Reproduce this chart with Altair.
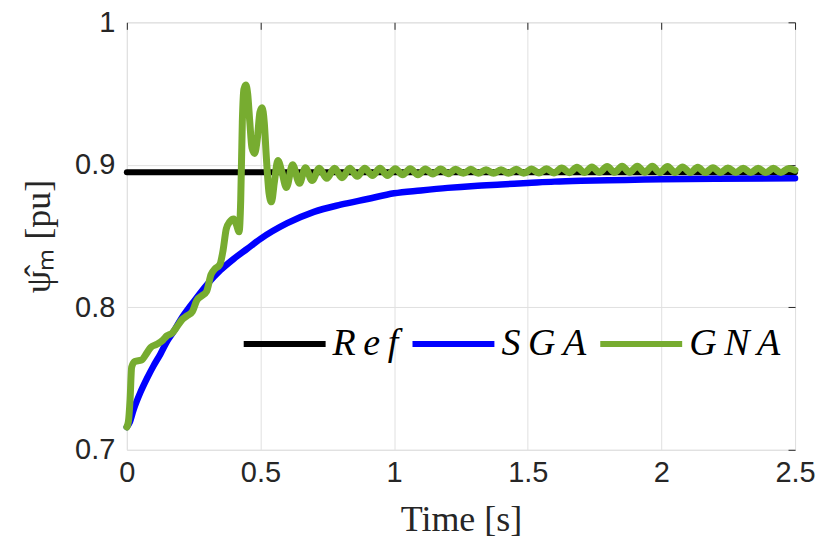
import altair as alt
import pandas as pd

# ---- data ----
ref_t = [0.0, 2.5]
ref_v = [0.8948, 0.8948]

sga_t = [0.0, 0.01, 0.025, 0.05, 0.075, 0.1, 0.125, 0.15, 0.175, 0.2, 0.25, 0.3,
         0.35, 0.4, 0.45, 0.5, 0.6, 0.7, 0.8, 0.9, 1.0, 1.1, 1.2, 1.3, 1.4, 1.5,
         1.6, 1.7, 1.8, 1.9, 2.0, 2.2, 2.5]
sga_v = [0.716, 0.719, 0.728, 0.740, 0.750, 0.759, 0.767, 0.776, 0.783, 0.791, 0.804, 0.816,
         0.826, 0.834, 0.841, 0.848, 0.859, 0.867, 0.872, 0.876, 0.880, 0.882, 0.8838, 0.8852, 0.8862, 0.8872,
         0.8882, 0.8888, 0.8892, 0.8895, 0.8898, 0.8902, 0.8905]

gna_t = [0.000, 0.006, 0.012, 0.018, 0.030, 0.055, 0.075, 0.090, 0.112, 0.135, 0.150, 0.170,
         0.190, 0.205, 0.225, 0.245, 0.262, 0.280, 0.298, 0.315, 0.330, 0.348, 0.360, 0.372,
         0.385, 0.400, 0.410, 0.420, 0.426, 0.432, 0.438, 0.445, 0.452, 0.460, 0.468, 0.478,
         0.488, 0.498, 0.506, 0.514, 0.522, 0.532, 0.541, 0.552, 0.565, 0.580, 0.597, 0.620,
         0.646, 0.668, 0.693,
         0.720, 0.748, 0.777, 0.805, 0.834, 0.862, 0.890, 0.919, 0.947, 0.975,
         1.004, 1.032, 1.060, 1.089, 1.117, 1.145, 1.174, 1.202, 1.230, 1.259,
         1.287, 1.315, 1.344, 1.372, 1.400, 1.428, 1.457, 1.485, 1.514, 1.542,
         1.570, 1.598, 1.627, 1.655, 1.684, 1.712, 1.740, 1.768, 1.797, 1.825,
         1.853, 1.881, 1.910, 1.938, 1.966, 1.994, 2.023, 2.051, 2.079, 2.108,
         2.136, 2.164, 2.193, 2.221, 2.249, 2.278, 2.306, 2.334, 2.362, 2.391,
         2.419, 2.447, 2.476, 2.500]
gna_v = [0.716, 0.720, 0.735, 0.758, 0.762, 0.763, 0.768, 0.772, 0.774, 0.777, 0.780, 0.782,
         0.787, 0.791, 0.794, 0.797, 0.805, 0.808, 0.811, 0.823, 0.827, 0.830, 0.840, 0.855,
         0.860, 0.862, 0.858, 0.853, 0.875, 0.930, 0.953, 0.956, 0.950, 0.930, 0.912, 0.908,
         0.918, 0.937, 0.940, 0.930, 0.905, 0.880, 0.874, 0.888, 0.903, 0.895, 0.884, 0.900,
         0.887, 0.898, 0.889,
         0.8975, 0.8905, 0.8975, 0.8910, 0.8975, 0.8920, 0.8975, 0.8925, 0.8975, 0.8925,
         0.8973, 0.8930, 0.8972, 0.8930, 0.8970, 0.8935, 0.8970, 0.8937, 0.8968, 0.8940,
         0.8968, 0.8940, 0.8966, 0.8940, 0.8966, 0.8940, 0.8968, 0.8940, 0.8970, 0.8942,
         0.8972, 0.8943, 0.8978, 0.8945, 0.8982, 0.8946, 0.8985, 0.8947, 0.8988, 0.8947,
         0.8990, 0.8947, 0.8990, 0.8947, 0.8990, 0.8946, 0.8988, 0.8946, 0.8985, 0.8946,
         0.8982, 0.8946, 0.8980, 0.8946, 0.8978, 0.8946, 0.8976, 0.8946, 0.8975, 0.8946,
         0.8975, 0.8946, 0.8974, 0.8962]

series_names = ["Ref", "SGA", "GNA"]
series_colors = ["#000000", "#0000ff", "#77ac30"]
x_ticks = [0, 0.5, 1, 1.5, 2, 2.5]
y_ticks = [0.7, 0.8, 0.9, 1.0]

rows = []
for name, ts, vs in [("Ref", ref_t, ref_v), ("SGA", sga_t, sga_v), ("GNA", gna_t, gna_v)]:
    for t, v in zip(ts, vs):
        rows.append({"t": t, "v": v, "series": name})
df = pd.DataFrame(rows)

W, H = 669, 428

color = alt.Color(
    "series:N",
    scale=alt.Scale(domain=series_names, range=series_colors),
    legend=alt.Legend(
        title=None,
        orient="none",
        legendX=114,
        legendY=278,
        direction="horizontal",
        symbolType="stroke",
        symbolSize=6724,
        symbolStrokeWidth=6,
        labelFont="Liberation Serif",
        labelFontStyle="italic",
        labelFontSize=38,
        labelColor="#000000",
        labelOffset=4,
        columnPadding=2,
        padding=0,
        labelLimit=400,
        labelExpr="datum.label == 'Ref' ? 'R\u2009e\u2009f' : (datum.label == 'SGA' ? 'S\u2009G\u2009A' : 'G\u2009N\u2009A')",
    ),
)

x_main = alt.X("t:Q", scale=alt.Scale(domain=[0, 2.5], nice=False),
               axis=alt.Axis(values=x_ticks, format="~g", title="Time [s]",
                             labelFont="Liberation Sans", labelFontSize=29, labelColor="#262626",
                             labelPadding=9, tickSize=0, domain=False, grid=True,
                             labelFlush=False, labelOverlap=False,
                             gridColor="#e0e0e0", gridWidth=1,
                             titleFont="Liberation Serif", titleFontSize=36,
                             titleFontWeight="normal", titleColor="#262626",
                             titleY=81, titleBaseline="alphabetic"))
y_main = alt.Y("v:Q", scale=alt.Scale(domain=[0.7, 1.0], nice=False, zero=False),
               axis=alt.Axis(values=y_ticks, format="~g", title="ψ̂ₘ [pu]",
                             labelFont="Liberation Sans", labelFontSize=29, labelColor="#262626",
                             labelPadding=12, tickSize=0, domain=False, grid=True,
                             labelFlush=False, labelOverlap=False,
                             gridColor="#e0e0e0", gridWidth=1,
                             titleFont="Liberation Serif", titleFontSize=36,
                             titleFontWeight="normal", titleColor="#262626",
                             titleX=-77, titleY=H / 2, titleAngle=270,
                             titleAlign="center", titleBaseline="alphabetic"))

x_ticks_in = alt.X("t:Q", scale=alt.Scale(domain=[0, 2.5], nice=False),
                   axis=alt.Axis(values=x_ticks, labels=False, title=None, domain=False,
                                 grid=False, tickSize=7, offset=-7, tickColor="#262626"))
y_ticks_in = alt.Y("v:Q", scale=alt.Scale(domain=[0.7, 1.0], nice=False, zero=False),
                   axis=alt.Axis(values=y_ticks, labels=False, title=None, domain=False,
                                 grid=False, tickSize=7, offset=-7, tickColor="#262626"))

base = alt.Chart(df)

ref_layer = base.transform_filter(alt.datum.series == "Ref").mark_line(
    strokeWidth=6, strokeCap="round").encode(x=x_main, y=y_main, color=color)
sga_layer = base.transform_filter(alt.datum.series == "SGA").mark_line(
    strokeWidth=6.5, strokeCap="round", interpolate="monotone").encode(
    x=x_ticks_in, y=y_ticks_in, color=color)
gna_layer = base.transform_filter(alt.datum.series == "GNA").mark_line(
    strokeWidth=7, strokeCap="round", interpolate="monotone").encode(
    x=alt.X("t:Q", axis=None), y=alt.Y("v:Q", axis=None), color=color)

chart = alt.layer(ref_layer, sga_layer, gna_layer).resolve_axis(
    x="independent", y="independent"
).properties(
    width=W, height=H,
    padding={"left": 119, "top": 14, "right": 27, "bottom": 97},
    autosize=alt.AutoSizeParams(type="none"),
).configure_view(
    stroke="#262626", strokeWidth=1
).configure(background="white")

chart.save("out.html", embed_options={"renderer": "svg", "actions": False})
